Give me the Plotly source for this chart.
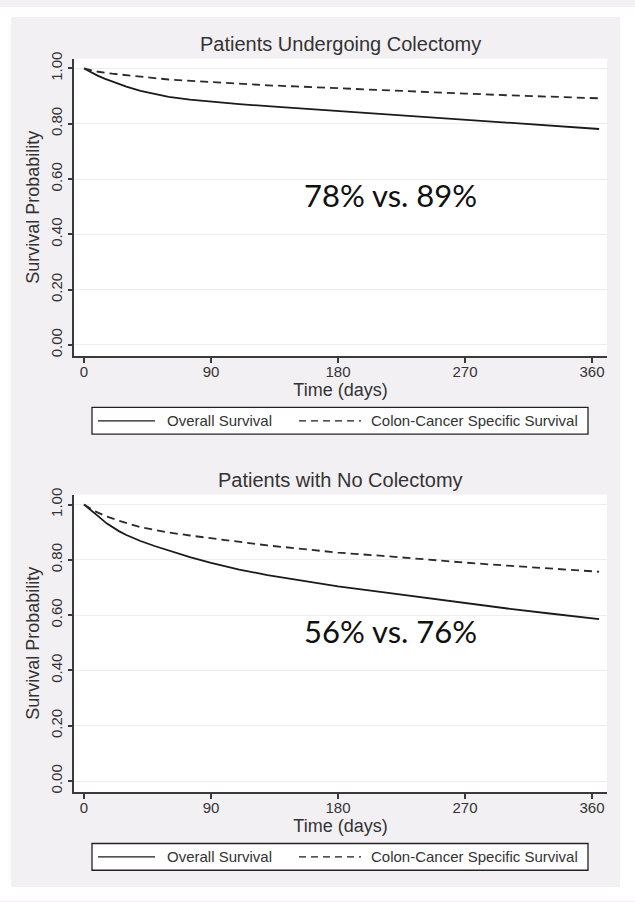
import plotly.graph_objects as go

# ---------------- data ----------------
x_ticks = [0, 90, 180, 270, 360]
y_ticks = [0.0, 0.2, 0.4, 0.6, 0.8, 1.0]

titles = ["Patients Undergoing Colectomy", "Patients with No Colectomy"]
series_names = ["Overall Survival", "Colon-Cancer Specific Survival"]
summary_text = ["78% vs. 89%", "56% vs. 76%"]

days_top_os = [0, 5, 10, 15, 20, 25, 30, 40, 50, 60, 75, 90, 110, 135, 160, 180,
               210, 240, 252, 270, 300, 330, 365]
os_top = [1.0, 0.986, 0.973, 0.962, 0.952, 0.942, 0.934, 0.919, 0.907, 0.897, 0.887,
          0.879, 0.871, 0.862, 0.853, 0.846, 0.836, 0.826, 0.822, 0.816, 0.805, 0.794, 0.781]

days_top_css = [0, 5, 10, 20, 30, 40, 50, 60, 75, 90, 110, 130, 150, 180, 210, 240,
                270, 300, 330, 365]
css_top = [1.0, 0.993, 0.988, 0.981, 0.975, 0.970, 0.965, 0.960, 0.955, 0.950, 0.944,
           0.939, 0.935, 0.928, 0.921, 0.915, 0.909, 0.903, 0.898, 0.892]

days_bot_os = [0, 5, 10, 16, 20, 25, 30, 40, 50, 60, 75, 90, 110, 130, 150, 180, 210,
               240, 252, 270, 300, 330, 365]
os_bot = [1.0, 0.98, 0.958, 0.932, 0.918, 0.903, 0.89, 0.868, 0.85, 0.834, 0.81, 0.789,
          0.765, 0.745, 0.728, 0.704, 0.684, 0.664, 0.655, 0.642, 0.624, 0.606, 0.586]

days_bot_css = [0, 8, 16, 25, 40, 50, 60, 75, 90, 110, 130, 150, 180, 210, 240, 252,
                270, 300, 330, 365]
css_bot = [1.0, 0.975, 0.957, 0.941, 0.918, 0.908, 0.899, 0.888, 0.878, 0.864, 0.852,
           0.842, 0.826, 0.815, 0.802, 0.797, 0.790, 0.779, 0.768, 0.757]

# ---------------- geometry helpers ----------------
W, H = 635, 902
def px(x):
    return x / W
def py(y):
    return 1 - y / H

FONT = "Liberation Sans, Arial, sans-serif"
AX = "#3a3a3a"
TXT = "#333333"
PANEL = "rgb(243,240,243)"

fig = go.Figure()

panels = [
    dict(xa="x", ya="y", d_os=days_top_os, os=os_top, d_css=days_top_css, css=css_top),
    dict(xa="x2", ya="y2", d_os=days_bot_os, os=os_bot, d_css=days_bot_css, css=css_bot),
]
for p in panels:
    fig.add_trace(go.Scatter(x=p["d_os"], y=p["os"], xaxis=p["xa"], yaxis=p["ya"],
                             mode="lines", line=dict(color="#1a1a1a", width=1.8),
                             name=series_names[0], showlegend=False, hoverinfo="skip"))
    fig.add_trace(go.Scatter(x=p["d_css"], y=p["css"], xaxis=p["xa"], yaxis=p["ya"],
                             mode="lines", line=dict(color="#2a2a2a", width=1.8,
                                                     dash="8px,5px"),
                             name=series_names[1], showlegend=False, hoverinfo="skip"))

offsets = [0, 440]

def xaxis_cfg(off, anchor):
    return dict(domain=[px(74), px(607)], range=[-7.1, 370.6], anchor=anchor,
                tickvals=x_ticks, ticks="outside", ticklen=5, tickwidth=1.5, tickcolor=AX,
                showline=True, linecolor=AX, linewidth=1.6, showgrid=False, zeroline=False,
                ticklabelstandoff=-4,
                tickfont=dict(family=FONT, size=15, color=TXT),
                title=dict(text="Time (days)", font=dict(family=FONT, size=18, color=TXT),
                           standoff=0))

def yaxis_cfg(off, anchor):
    top, bot = 52 + off, 352 + off
    return dict(domain=[py(bot), py(top)], range=[-0.0394, 1.0358], anchor=anchor,
                tickvals=y_ticks, tickformat=".2f", tickangle=-90, ticks="outside",
                ticklen=4, tickwidth=1.5, tickcolor=AX,
                showline=True, linecolor=AX, linewidth=1.6,
                showgrid=True, gridcolor="#ededed", gridwidth=1, zeroline=False,
                tickfont=dict(family=FONT, size=15, color=TXT),
                title=dict(text="Survival Probability",
                           font=dict(family=FONT, size=18, color=TXT), standoff=4))

shapes = []
# white outer border around grey graph region
for (x0, y0, x1, y1) in [(0, 0, 11, H), (620, 0, W, H), (0, 0, W, 10), (0, 888, W, H)]:
    shapes.append(dict(type="rect", xref="paper", yref="paper", x0=px(x0), x1=px(x1),
                       y0=py(y1), y1=py(y0), fillcolor="white", line=dict(width=0),
                       layer="below"))

annotations = []
for i, off in enumerate(offsets):
    annotations.append(dict(text=titles[i], xref="paper", yref="paper", x=px(340),
                            y=py(37 + off), showarrow=False, xanchor="center", yanchor="middle",
                            font=dict(family=FONT, size=20, color=TXT)))
    annotations.append(dict(text=summary_text[i], xref="paper", yref="paper", x=px(391),
                            y=py(190 + off), showarrow=False, xanchor="center", yanchor="middle",
                            font=dict(family="Lato, sans-serif", size=31, color="#111111")))
    ly0, ly1 = 404 + off, 431 + off
    lyc = (ly0 + ly1) / 2
    shapes.append(dict(type="rect", xref="paper", yref="paper", x0=px(92), x1=px(588),
                       y0=py(ly1), y1=py(ly0), fillcolor="white",
                       line=dict(color="#222222", width=1.3), layer="above"))
    shapes.append(dict(type="line", xref="paper", yref="paper", x0=px(98), x1=px(155),
                       y0=py(lyc), y1=py(lyc), line=dict(color="#1a1a1a", width=1.3),
                       layer="above"))
    shapes.append(dict(type="line", xref="paper", yref="paper", x0=px(299), x1=px(361),
                       y0=py(lyc), y1=py(lyc),
                       line=dict(color="#1a1a1a", width=1.3, dash="7px,5px"),
                       layer="above"))
    annotations.append(dict(text=series_names[0], xref="paper", yref="paper", x=px(165),
                            y=py(lyc), showarrow=False, xanchor="left", yanchor="middle",
                            font=dict(family=FONT, size=15, color=TXT)))
    annotations.append(dict(text=series_names[1], xref="paper", yref="paper", x=px(369),
                            y=py(lyc), showarrow=False, xanchor="left", yanchor="middle",
                            font=dict(family=FONT, size=15, color=TXT)))

fig.update_layout(
    width=W, height=H, autosize=False,
    margin=dict(l=0, r=0, t=0, b=0, pad=0),
    paper_bgcolor=PANEL, plot_bgcolor="white",
    showlegend=False,
    xaxis=xaxis_cfg(0, "y"), yaxis=yaxis_cfg(0, "x"),
    xaxis2=xaxis_cfg(440, "y2"), yaxis2=yaxis_cfg(440, "x2"),
    shapes=shapes, annotations=annotations,
)

pin = ("document.documentElement.style.margin='0';"
       "document.body.style.margin='0';document.body.style.padding='0';"
       "var d=document.getElementById('{plot_id}');"
       "d.style.position='absolute';d.style.left='0px';d.style.top='0px';")
fig.write_html("out.html", config={"displayModeBar": False}, post_script=pin)
